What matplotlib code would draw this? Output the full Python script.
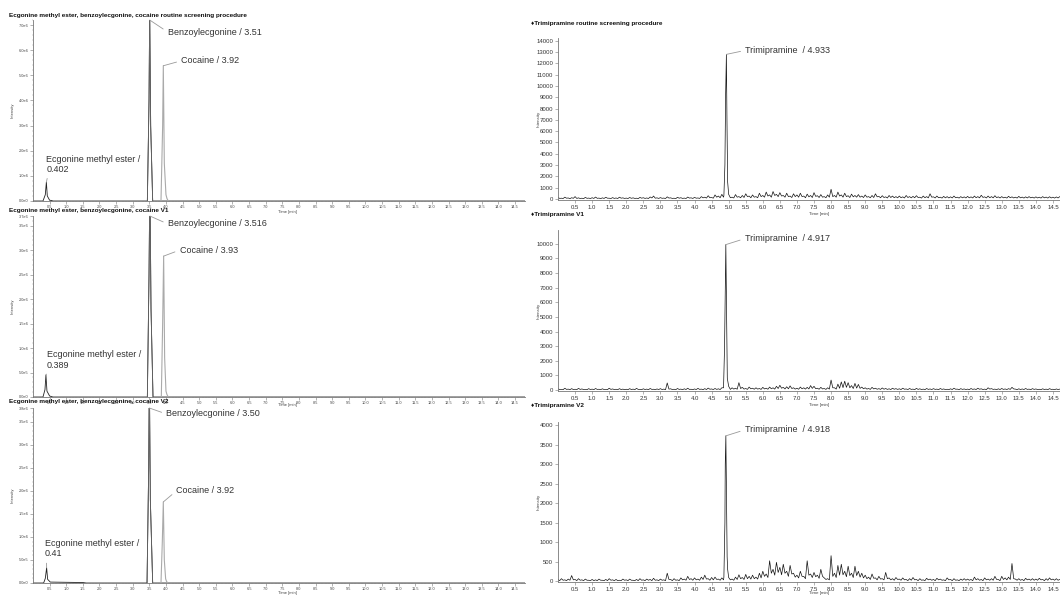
import numpy as np
import matplotlib
matplotlib.use('Agg')
import matplotlib.pyplot as plt
from matplotlib.ticker import FixedLocator, MultipleLocator, FuncFormatter

plt.rcParams['font.family'] = ['Liberation Sans', 'DejaVu Sans']

W, H = 1060, 595

# ---------------- left column: ecgonine / benzoylecgonine / cocaine ----------------
left_titles = ['Ecgonine methyl ester, benzoylecgonine, cocaine routine screening procedure',
               'Ecgonine methyl ester, benzoylecgonine, cocaine V1',
               'Ecgonine methyl ester, benzoylecgonine, cocaine V2']

# ecgonine methyl ester peak (time, intensity)
em_t = [[0.0, 0.30, 0.37, 0.402, 0.43, 0.50, 0.56, 0.60],
        [0.0, 0.30, 0.36, 0.389, 0.42, 0.50, 0.60],
        [0.0, 0.32, 0.37, 0.41, 0.44, 0.52, 1.50, 1.60]]
em_y = [[0, 0, 0.25e6, 0.75e6, 0.20e6, 0.03e6, 0.02e6, 0],
        [0, 0, 0.15e6, 0.45e6, 0.12e6, 0.02e6, 0],
        [0, 0, 0.10e6, 0.33e6, 0.08e6, 0.02e6, 0.01e6, 0]]
# benzoylecgonine peak
bz_t = [[3.44, 3.49, 3.51, 3.54, 3.60, 14.8],
        [3.44, 3.49, 3.516, 3.55, 3.61, 14.8],
        [3.43, 3.48, 3.50, 3.53, 3.60, 14.8]]
bz_y = [[0, 4.0e6, 7.6e6, 3.0e6, 0, 0],
        [0, 2.5e6, 4.5e6, 1.8e6, 0, 0],
        [0, 2.5e6, 4.5e6, 1.8e6, 0, 0]]
# cocaine peak
co_t = [[3.85, 3.90, 3.92, 3.95, 4.00, 4.03, 4.07],
        [3.86, 3.90, 3.93, 3.96, 4.00, 4.03, 4.07],
        [3.85, 3.89, 3.92, 3.95, 3.99, 4.02, 4.06]]
co_y = [[0, 3.0e6, 5.38e6, 1.5e6, 0.25e6, 0.10e6, 0],
        [0, 1.5e6, 2.88e6, 0.8e6, 0.12e6, 0.05e6, 0],
        [0, 0.9e6, 1.76e6, 0.5e6, 0.09e6, 0.03e6, 0]]

em_rt = ['0.402', '0.389', '0.41']
bz_rt = ['3.51', '3.516', '3.50']
co_rt = ['3.92', '3.93', '3.92']

left_yticks = [[0, 1e6, 2e6, 3e6, 4e6, 5e6, 6e6, 7e6],
               [0, 0.5e6, 1e6, 1.5e6, 2e6, 2.5e6, 3e6, 3.5e6, 3.7e6],
               [0, 0.5e6, 1e6, 1.5e6, 2e6, 2.5e6, 3e6, 3.5e6, 3.8e6]]
left_ytop = [7.2e6, 3.7e6, 3.8e6]
left_minor = [0.2e6, 0.1e6, 0.1e6]

# ---------------- right column: trimipramine ----------------
right_titles = ['\u2666Trimipramine routine screening procedure',
                '\u2666Trimipramine V1',
                '\u2666Trimipramine V2']

# baseline noise, one value every 0.1 min from 0.0 to 14.9 (spike tops)
r1_noise = [120, 60, 150, 80, 100, 200, 90, 60, 130, 70,
            100, 160, 70, 90, 140, 60, 110, 80, 150, 90,
            70, 120, 90, 60, 130, 100, 80, 170, 250, 90,
            110, 70, 180, 90, 60, 140, 100, 70, 160, 90,
            130, 80, 200, 150, 280, 120, 350, 250, 400, 300,
            250, 150, 380, 200, 300, 450, 250, 350, 200, 500,
            300, 600, 350, 650, 400, 550, 300, 500, 250, 450,
            350, 500, 250, 420, 300, 550, 280, 380, 200, 350,
            850, 300, 600, 350, 500, 280, 420, 300, 380, 250,
            350, 200, 300, 450, 220, 280, 180, 300, 250, 200,
            250, 180, 300, 200, 220, 280, 150, 250, 200, 450,
            180, 250, 150, 220, 200, 180, 250, 150, 200, 180,
            220, 180, 250, 200, 320, 180, 250, 200, 280, 180,
            200, 150, 230, 180, 150, 220, 160, 180, 200, 150,
            180, 150, 200, 160, 190, 150, 170, 200, 150, 180]
# values half-way between (valleys), 0.05 to 14.95
r1_mid = [40, 30, 60, 20, 50, 40, 30, 20, 50, 30,
          40, 50, 20, 40, 60, 30, 40, 30, 60, 40,
          30, 50, 40, 20, 60, 40, 30, 80, 60, 40,
          50, 30, 70, 40, 20, 60, 40, 30, 70, 40,
          60, 40, 90, 70, 100, 60, 150, 100, 150, 100,
          100, 80, 150, 100, 120, 200, 100, 150, 100, 200,
          150, 250, 150, 300, 200, 250, 150, 200, 120, 200,
          150, 200, 100, 180, 120, 220, 120, 150, 100, 150,
          200, 150, 250, 150, 200, 120, 180, 150, 150, 120,
          150, 100, 120, 180, 100, 120, 80, 120, 100, 90,
          100, 80, 120, 90, 100, 120, 70, 100, 90, 150,
          80, 100, 70, 90, 80, 80, 100, 70, 90, 80,
          90, 80, 100, 90, 130, 80, 100, 90, 110, 80,
          90, 70, 100, 80, 70, 90, 70, 80, 90, 70,
          80, 70, 90, 70, 80, 70, 80, 90, 70, 80]
r2_noise = [80, 40, 120, 60, 90, 50, 110, 70, 40, 90,
            60, 100, 50, 80, 40, 120, 70, 50, 90, 60,
            50, 90, 60, 110, 40, 80, 60, 100, 50, 70,
            90, 60, 480, 80, 50, 100, 60, 80, 120, 50,
            70, 110, 60, 90, 130, 70, 100, 80, 150, 120,
            100, 150, 120, 500, 180, 100, 200, 120, 150, 100,
            180, 120, 200, 150, 250, 320, 180, 220, 280, 150,
            120, 200, 150, 180, 300, 250, 120, 180, 100, 150,
            680, 150, 400, 550, 600, 500, 300, 450, 380, 200,
            150, 100, 180, 120, 90, 140, 100, 80, 120, 90,
            80, 120, 70, 100, 60, 110, 80, 60, 100, 70,
            90, 60, 100, 70, 50, 80, 120, 60, 90, 70,
            60, 100, 70, 120, 80, 60, 150, 90, 60, 80,
            100, 70, 90, 180, 60, 80, 70, 100, 60, 90,
            70, 50, 80, 60, 90, 50, 70, 60, 80, 50]
r2_mid = [30, 20, 40, 20, 30, 20, 40, 30, 20, 30,
          20, 40, 20, 30, 20, 40, 30, 20, 30, 20,
          20, 30, 20, 40, 20, 30, 20, 40, 20, 30,
          30, 20, 60, 30, 20, 40, 20, 30, 40, 20,
          30, 40, 20, 30, 50, 30, 40, 30, 50, 40,
          40, 60, 50, 100, 60, 40, 80, 50, 60, 40,
          70, 50, 80, 60, 100, 120, 70, 80, 100, 60,
          50, 80, 60, 70, 110, 90, 50, 70, 40, 60,
          150, 60, 120, 160, 180, 150, 100, 130, 110, 80,
          60, 40, 70, 50, 40, 50, 40, 30, 50, 40,
          30, 50, 30, 40, 20, 40, 30, 20, 40, 30,
          40, 20, 40, 30, 20, 30, 50, 20, 40, 30,
          20, 40, 30, 50, 30, 20, 60, 40, 20, 30,
          40, 30, 40, 70, 20, 30, 30, 40, 20, 40,
          30, 20, 30, 20, 40, 20, 30, 20, 30, 20]
r3_noise = [40, 60, 30, 50, 140, 40, 60, 30, 50, 20,
            40, 30, 50, 20, 40, 60, 30, 40, 20, 50,
            30, 50, 20, 40, 60, 30, 50, 40, 70, 30,
            50, 30, 200, 40, 60, 30, 80, 50, 120, 60,
            80, 50, 100, 150, 60, 90, 100, 50, 80, 60,
            80, 50, 100, 160, 90, 170, 120, 150, 100, 200,
            250, 180, 520, 300, 480, 350, 430, 250, 400, 200,
            150, 250, 120, 520, 180, 220, 150, 300, 80, 60,
            650, 200, 400, 430, 250, 380, 200, 380, 250, 200,
            150, 100, 180, 80, 120, 60, 220, 80, 60, 90,
            50, 80, 40, 60, 90, 40, 60, 30, 70, 50,
            40, 70, 50, 30, 80, 40, 60, 30, 50, 60,
            50, 40, 100, 60, 40, 80, 50, 60, 120, 40,
            120, 80, 100, 450, 50, 60, 40, 70, 50, 60,
            50, 70, 40, 60, 80, 50, 60, 40, 70, 50]
r3_mid = [10, 20, 10, 20, 30, 10, 20, 10, 20, 10,
          10, 10, 20, 10, 10, 20, 10, 10, 10, 20,
          10, 20, 10, 10, 20, 10, 20, 10, 20, 10,
          20, 10, 40, 10, 20, 10, 30, 20, 40, 20,
          30, 20, 40, 50, 20, 30, 40, 20, 30, 20,
          30, 20, 40, 60, 40, 60, 50, 60, 50, 80,
          120, 90, 200, 150, 220, 160, 200, 120, 180, 100,
          80, 120, 60, 150, 90, 110, 70, 120, 40, 30,
          120, 90, 150, 160, 110, 140, 90, 140, 100, 80,
          60, 40, 70, 30, 50, 30, 60, 30, 20, 40,
          20, 30, 10, 20, 30, 10, 20, 10, 30, 20,
          10, 30, 20, 10, 30, 10, 20, 10, 20, 20,
          20, 10, 30, 20, 10, 30, 20, 20, 40, 10,
          40, 30, 40, 60, 20, 20, 10, 30, 20, 20,
          20, 30, 10, 20, 30, 20, 20, 10, 30, 20]
noise_t = np.arange(150) * 0.1  # sampling grid
mid_t = noise_t + 0.05

# trimipramine peaks
tri_t = [[4.86, 4.89, 4.91, 4.933, 4.95, 4.97, 5.0],
         [4.85, 4.88, 4.90, 4.917, 4.94, 4.96, 5.0],
         [4.86, 4.89, 4.90, 4.918, 4.94, 4.955, 4.97, 5.0]]
tri_y = [[300, 3000, 9000, 12800, 7000, 1500, 400],
         [150, 3000, 7000, 9950, 4700, 800, 250],
         [100, 1500, 3000, 3725, 2000, 620, 300, 90]]
tri_rt = ['4.933', '4.917', '4.918']

right_yticks = [list(range(0, 14001, 1000)),
                list(range(0, 10001, 1000)),
                list(range(0, 4001, 500))]
right_ylim = [(-100, 14250), (-70, 10950), (-25, 4080)]

xticks = [0.5 * i for i in range(1, 30)]


def px_axes(fig, x0, y0, x1, y1):
    return fig.add_axes([x0 / W, 1 - y1 / H, (x1 - x0) / W, (y1 - y0) / H])


def sci(v, pos):
    if v == 0:
        return '0.0e0'
    e = int(np.floor(np.log10(v) + 1e-9))
    return '%.1fe%d' % (v / 10 ** e, e)


def style(ax, spine_c='#777'):
    for s in ['top', 'right']:
        ax.spines[s].set_visible(False)
    for s in ['left', 'bottom']:
        ax.spines[s].set_color(spine_c)
        ax.spines[s].set_linewidth(0.6)


def leader(ax, text, xy, off, fs=6.5, rel=(0, 0.5)):
    ax.annotate(text, xy=xy, xytext=off, textcoords='offset pixels',
                ha='left', va='center', fontsize=fs, color='#333',
                linespacing=1.15, annotation_clip=False,
                arrowprops=dict(arrowstyle='-', color='#999', lw=0.6,
                                shrinkA=1.5, shrinkB=0, relpos=rel))


fig = plt.figure(figsize=(10.6, 5.95), dpi=100)

left_box = [(20, 201), (216, 397), (408, 583)]
left_title_y = [15, 210, 401]
time_y_left = [212, 405, 593]
bz_off = [(18, -12), (18, -8), (17, -6)]
co_off = [(18, 5), (16, 6), (13, 11)]
em_off = [(0, 18), (1, 15), (-2, 19)]

for i in range(3):
    y0, y1 = left_box[i]
    ax = px_axes(fig, 33, y0, 525, y1)
    style(ax)
    ax.set_xlim(0, 14.8)
    ax.set_ylim(0, left_ytop[i])
    ax.plot(em_t[i] + bz_t[i], em_y[i] + bz_y[i], color='#222', lw=0.6, clip_on=True)
    ax.plot(bz_t[i][:5], bz_y[i][:5], color='#666', lw=0.6)
    ax.plot(co_t[i], co_y[i], color='#aaa', lw=0.8)
    ax.yaxis.set_major_locator(FixedLocator(left_yticks[i]))
    ax.yaxis.set_major_formatter(FuncFormatter(sci))
    ax.yaxis.set_minor_locator(MultipleLocator(left_minor[i]))
    ax.xaxis.set_major_locator(FixedLocator(xticks))
    ax.xaxis.set_minor_locator(MultipleLocator(0.1))
    ax.tick_params(axis='both', which='major', labelsize=2.8, length=2, width=0.4,
                   colors='#777', labelcolor='#444', pad=1)
    ax.tick_params(axis='both', which='minor', length=1, width=0.3, colors='#999')

    top = left_ytop[i]
    leader(ax, 'Benzoylecgonine / ' + bz_rt[i], (bz_t[i][2], min(bz_y[i][2], top)), bz_off[i])
    leader(ax, 'Cocaine / ' + co_rt[i], (co_t[i][2], co_y[i][2]), co_off[i])
    leader(ax, 'Ecgonine methyl ester /\n' + em_rt[i], (em_t[i][3], em_y[i][3]), em_off[i],
           rel=(0.02, 0.0))

    fig.text(9 / W, 1 - left_title_y[i] / H, left_titles[i], fontsize=4.6,
             fontweight='bold', ha='left', va='center', color='#111')
    fig.text(287 / W, 1 - time_y_left[i] / H, 'Time [min]', fontsize=3,
             ha='center', va='center', color='#444')
    fig.text(13 / W, 1 - (y0 + y1) / 2 / H, 'Intensity', fontsize=3, rotation=90,
             ha='center', va='center', color='#444')

right_box = [(38, 200), (230, 391), (422, 582)]
right_title_y = [24, 214, 405]
time_y_right = [214, 405, 593]
tri_off = [(19, 4), (19, 6), (19, 6)]
noises = [r1_noise, r2_noise, r3_noise]
mids = [r1_mid, r2_mid, r3_mid]

for i in range(3):
    y0, y1 = right_box[i]
    ax = px_axes(fig, 558, y0, 1070, y1)
    style(ax)
    ax.set_xlim(0, 15.0)
    ax.set_ylim(*right_ylim[i])
    pk_t, pk_y = tri_t[i], tri_y[i]
    t_base = np.concatenate([noise_t, mid_t])
    y_base = np.concatenate([noises[i], mids[i]])
    keep = (t_base < pk_t[0] - 1e-6) | (t_base > pk_t[-1] + 1e-6)
    t_all = np.concatenate([t_base[keep], pk_t])
    y_all = np.concatenate([y_base[keep], pk_y])
    order = np.argsort(t_all)
    ax.plot(t_all[order], y_all[order], color='#111', lw=0.5)
    ax.yaxis.set_major_locator(FixedLocator(right_yticks[i]))
    ax.xaxis.set_major_locator(FixedLocator(xticks))
    ax.xaxis.set_major_formatter(FuncFormatter(lambda v, p: '%.1f' % v))
    ax.tick_params(axis='both', which='major', labelsize=4.3, length=2, width=0.4,
                   colors='#777', labelcolor='#333', pad=1.5)
    leader(ax, 'Trimipramine  / ' + tri_rt[i], (pk_t[3], pk_y[3]), tri_off[i])

    fig.text(531 / W, 1 - right_title_y[i] / H, right_titles[i], fontsize=4.6,
             fontweight='bold', ha='left', va='center', color='#111')
    fig.text(819 / W, 1 - time_y_right[i] / H, 'Time [min]', fontsize=3.2,
             ha='center', va='center', color='#444')
    fig.text(539 / W, 1 - (y0 + y1) / 2 / H, 'Intensity', fontsize=3.2, rotation=90,
             ha='center', va='center', color='#444')

fig.savefig('out.png', dpi=100)
